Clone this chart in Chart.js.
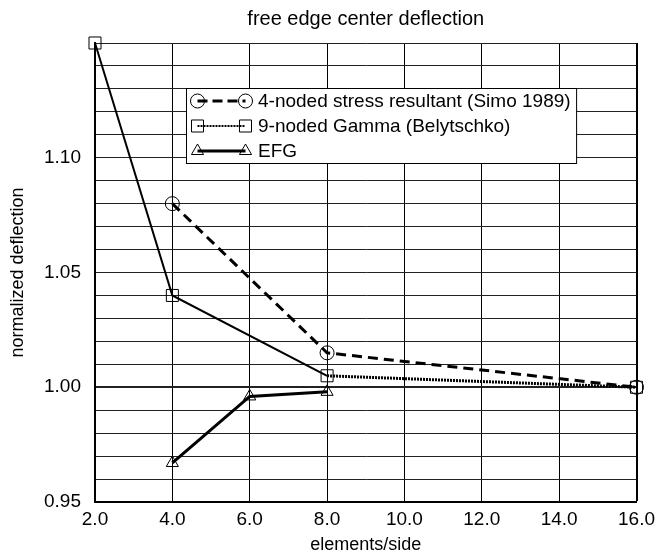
<!DOCTYPE html>
<html>
<head>
<meta charset="utf-8">
<script src="https://cdn.jsdelivr.net/npm/chart.js@4.4.0/dist/chart.umd.min.js"></script>
<style>
  html, body { margin: 0; padding: 0; background: #fff; }
</style>
</head>
<body>
<canvas id="myChart" width="661" height="554"></canvas>
<script>
// data
var simoX = [4, 8, 16];
var simoY = [1.08, 1.015, 1.00];
var gammaX = [2, 4, 8, 16];
var gammaY = [1.15, 1.04, 1.005, 1.00];
var efgX = [4, 6, 8];
var efgY = [0.967, 0.996, 0.998];
var seriesNames = ["4-noded stress resultant (Simo 1989)", "9-noded Gamma (Belytschko)", "EFG"];
var chartTitle = 'free edge center deflection';
var xRange = [2, 16, 2];
var yRange = [0.95, 1.15, 0.01];

function pts(xs, ys) {
  return xs.map(function (x, i) { return { x: x, y: ys[i] }; });
}

Chart.defaults.font.family = '"Liberation Sans", Arial, sans-serif';
Chart.defaults.color = '#000';

function marker(c, style, r, x, y) {
  c.beginPath();
  if (style === 'circle') {
    c.arc(x, y, r, 0, Math.PI * 2);
  } else if (style === 'rect') {
    var s = r * Math.SQRT1_2;
    c.rect(x - s, y - s, 2 * s, 2 * s);
  } else {
    for (var k = 0; k < 3; k++) {
      var a = k * Math.PI * 2 / 3;
      c.lineTo(x + Math.sin(a) * r, y - Math.cos(a) * r);
    }
    c.closePath();
  }
  c.lineWidth = 1;
  c.strokeStyle = '#000';
  c.stroke();
}

// title centred over the plot area, and the boxed legend
var extras = {
  id: 'extras',
  afterDraw: function (chart) {
    var c = chart.ctx;
    var area = chart.chartArea;
    c.save();
    c.fillStyle = '#000';
    c.font = '20px "Liberation Sans", Arial, sans-serif';
    c.textAlign = 'center';
    c.textBaseline = 'middle';
    c.fillText(chartTitle, (area.left + area.right) / 2, 19);

    var left = 186.5, top = 88.5, rowH = 25;
    c.font = '19px "Liberation Sans", Arial, sans-serif';
    var w = 0;
    seriesNames.forEach(function (n) { w = Math.max(w, c.measureText(n).width); });
    var boxW = 258 - left + w + 6;
    c.fillStyle = '#fff';
    c.fillRect(left, top, boxW, rowH * 3);
    c.strokeStyle = '#000';
    c.lineWidth = 1;
    c.strokeRect(left, top, boxW, rowH * 3);
    chart.data.datasets.forEach(function (ds, i) {
      var y = top + rowH * (i + 0.5);
      var x1 = 197.5, x2 = 245.5;
      c.beginPath();
      c.setLineDash(ds.legendDash);
      c.lineWidth = ds.legendWidth;
      c.strokeStyle = '#000';
      c.moveTo(x1, y);
      c.lineTo(x2, y);
      c.stroke();
      c.setLineDash([]);
      marker(c, ds.pointStyle, ds.pointRadius, x1, y);
      marker(c, ds.pointStyle, ds.pointRadius, x2, y);
      c.fillStyle = '#000';
      c.textBaseline = 'middle';
      c.textAlign = 'left';
      c.fillText(seriesNames[i], 258, y + 1);
    });
    c.restore();
  }
};

var ctx = document.getElementById('myChart').getContext('2d');

var myChart = new Chart(ctx, {
  type: 'scatter',
  data: {
    datasets: [{
      label: seriesNames[0],
      data: pts(simoX, simoY),
      showLine: true,
      borderColor: '#000',
      borderWidth: 3,
      borderDash: [10, 6],
      legendDash: [10, 5],
      legendWidth: 3,
      pointStyle: 'circle',
      pointRadius: 7,
      pointBorderWidth: 1,
      pointBorderColor: '#000',
      pointBackgroundColor: 'rgba(0,0,0,0)',
      clip: false
    }, {
      label: seriesNames[1],
      data: pts(gammaX, gammaY),
      showLine: true,
      borderColor: '#000',
      borderWidth: 2,
      segment: {
        borderDash: function (s) { return s.p0DataIndex >= 2 ? [2, 1] : undefined; },
        borderWidth: function (s) { return s.p0DataIndex >= 2 ? 3 : undefined; }
      },
      legendDash: [2, 1],
      legendWidth: 2,
      pointStyle: 'rect',
      pointRadius: 8.5,
      pointBorderWidth: 1,
      pointBorderColor: '#000',
      pointBackgroundColor: 'rgba(0,0,0,0)',
      clip: false
    }, {
      label: seriesNames[2],
      data: pts(efgX, efgY),
      showLine: true,
      borderColor: '#000',
      borderWidth: 3,
      legendDash: [],
      legendWidth: 3,
      pointStyle: 'triangle',
      pointRadius: 7,
      pointBorderWidth: 1,
      pointBorderColor: '#000',
      pointBackgroundColor: 'rgba(0,0,0,0)',
      clip: false
    }]
  },
  options: {
    responsive: false,
    animation: false,
    devicePixelRatio: 1,
    layout: { padding: { left: 0, right: 18, top: 43, bottom: 0 } },
    plugins: {
      legend: { display: false },
      tooltip: { enabled: false },
      title: { display: false }
    },
    scales: {
      x: {
        type: 'linear',
        min: xRange[0],
        max: xRange[1],
        afterFit: function (s) { s.height = 52; },
        ticks: {
          stepSize: xRange[2],
          autoSkip: false,
          maxRotation: 0,
          padding: 6,
          font: { size: 19 },
          color: '#000',
          callback: function (v) { return v.toFixed(1); }
        },
        grid: {
          color: '#000',
          drawTicks: false,
          lineWidth: function (c) { return c.index === 7 ? 2 : 1; }
        },
        border: { color: '#000', width: 2 },
        title: {
          display: true,
          text: 'elements/side',
          font: { size: 18, lineHeight: 1 },
          color: '#000',
          padding: { top: 0, bottom: 0 }
        }
      },
      y: {
        type: 'linear',
        min: yRange[0],
        max: yRange[1],
        afterFit: function (s) { s.width = 95; },
        ticks: {
          stepSize: yRange[2],
          autoSkip: false,
          padding: 14,
          font: { size: 19 },
          color: '#000',
          callback: function (v) {
            var k = Math.round(v * 100);
            return (k % 5 === 0 && k < 115) ? v.toFixed(2) : '';
          }
        },
        grid: {
          color: '#222',
          drawTicks: false,
          lineWidth: function (c) { return Math.round(c.tick.value * 100) === 100 ? 2 : 1; }
        },
        border: { color: '#000', width: 2 },
        title: {
          display: true,
          text: 'normalized deflection',
          font: { size: 18, lineHeight: 1 },
          color: '#000',
          padding: { top: 9, bottom: 0 }
        }
      }
    }
  },
  plugins: [extras]
});
</script>
</body>
</html>
